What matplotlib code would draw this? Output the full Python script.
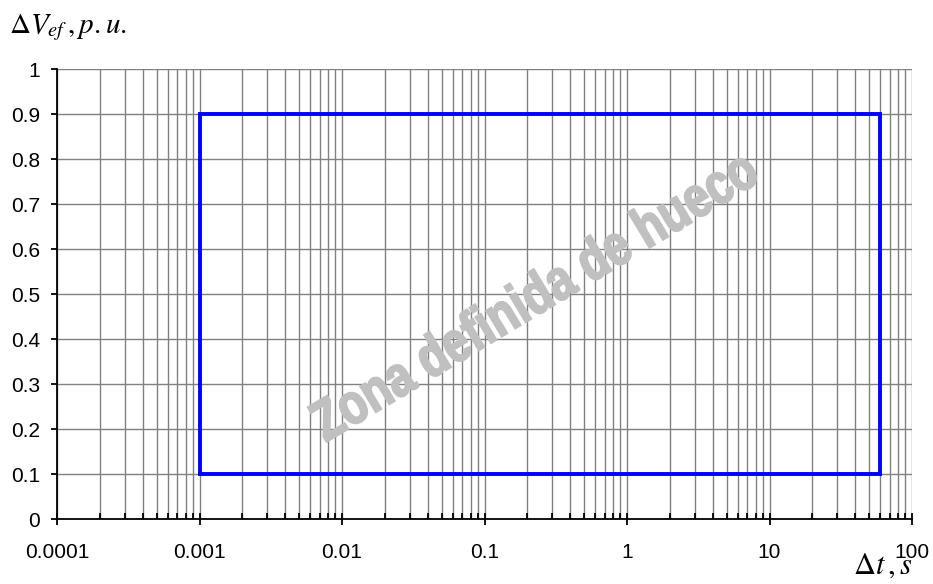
#! /usr/bin/env python3

""" Zona definida de hueco: voltage dip window on a log time axis.
"""

import numpy as np
from matplotlib import pyplot as plt
from matplotlib.ticker import LogLocator, FixedLocator, NullFormatter
from matplotlib.textpath import TextPath
from matplotlib.patches import PathPatch
from matplotlib.font_manager import FontProperties
from matplotlib.transforms import Affine2D, IdentityTransform

# data
zone_t = [0.001, 60, 60, 0.001, 0.001]
zone_v = [0.1, 0.1, 0.9, 0.9, 0.1]
xticks = [0.0001, 0.001, 0.01, 0.1, 1, 10, 100]
xlabels = ["0.0001", "0.001", "0.01", "0.1", "1", "10", "100"]
yticks = [0, 0.1, 0.2, 0.3, 0.4, 0.5, 0.6, 0.7, 0.8, 0.9, 1]
ylabels = ["0", "0.1", "0.2", "0.3", "0.4", "0.5", "0.6", "0.7", "0.8", "0.9", "1"]
watermark = "Zona definida de hueco"

plt.rcParams["font.family"] = ["Liberation Sans", "DejaVu Sans"]
plt.rcParams["mathtext.fontset"] = "stix"

fig = plt.figure(figsize=(9.33, 5.84), dpi=100)
ax = fig.add_axes([0.0611, 0.1113, 0.9164, 0.7705])

ax.set_xscale("log")
ax.set_xlim(0.0001, 100)
ax.set_ylim(0, 1)

ax.xaxis.set_major_locator(FixedLocator(xticks))
ax.set_xticklabels(xlabels)
ax.xaxis.set_minor_locator(LogLocator(base=10, subs=np.arange(2, 10)))
ax.xaxis.set_minor_formatter(NullFormatter())
ax.set_yticks(yticks)
ax.set_yticklabels(ylabels)

# grid
ax.grid(True, which="major", axis="both", color="#808080", lw=1.0)
ax.grid(True, which="minor", axis="x", color="#808080", lw=1.0)
ax.set_axisbelow(True)

for s in ("top", "right"):
    ax.spines[s].set_visible(False)
for s in ("left", "bottom"):
    ax.spines[s].set_color("black")
    ax.spines[s].set_linewidth(1.3)

ax.tick_params(axis="x", which="major", direction="inout", length=9, width=1.3,
               labelsize=15, pad=13)
ax.tick_params(axis="x", which="minor", direction="in", length=4, width=1.3)
ax.tick_params(axis="y", which="major", direction="out", length=4, width=1.3,
               labelsize=15, pad=8)

# the zone
ax.plot(zone_t, zone_v, color="#0000ff", lw=2.8, solid_joinstyle="miter", zorder=3)

# watermark: bold condensed text, rotated
tp = TextPath((0, 0), watermark, size=57,
              prop=FontProperties(family="Liberation Sans", weight="bold"))
ext = tp.get_extents()
cx, cy = (ext.x0 + ext.x1) / 2, (ext.y0 + ext.y1) / 2
tr = (Affine2D().translate(-cx, -cy).scale(0.8, 1.0).rotate_deg(31)
      .translate(533, 584 - 294))
fig.add_artist(PathPatch(tr.transform_path(tp), transform=IdentityTransform(),
                         fc="#c0c0c0", ec="#c0c0c0", lw=1.5, zorder=2))

# axis labels
fig.text(0.010, 0.943, r"$\Delta V_{ef}\,,\mathit{p.u.}$", fontsize=21, ha="left", va="baseline")
fig.text(0.914, 0.006, r"$\Delta t\,,s$", fontsize=22, ha="left", va="bottom")

plt.savefig("out.png", dpi=100)
